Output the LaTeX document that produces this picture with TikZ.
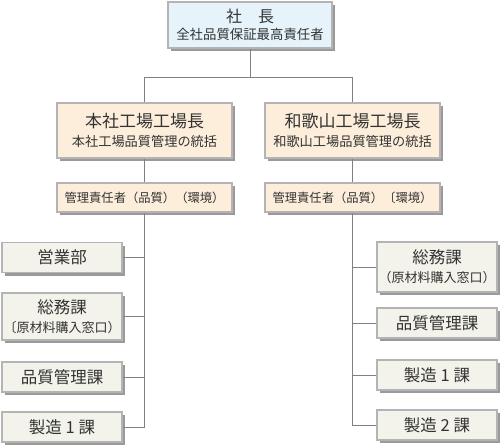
\documentclass[tikz,border=0pt]{standalone}
\usepackage{fontspec}
\setmainfont{Noto Sans CJK JP}
\usetikzlibrary{shadows}
\definecolor{boxline}{HTML}{B4B4B4}
\definecolor{boxshadow}{HTML}{9A9A9A}
\definecolor{topfill}{HTML}{E6F3FA}
\definecolor{facfill}{HTML}{FDEEDB}
\definecolor{deptfill}{HTML}{F3F3EB}
\definecolor{textgray}{HTML}{333333}
\definecolor{linkgray}{HTML}{808080}
\newcommand{\headtext}[1]{{\fontsize{17}{19}\selectfont #1}}

\begin{document}
\begin{tikzpicture}[x=1pt, y=-1pt,
  basenode/.style={shape=rectangle, draw=boxline, line width=1.5, text=textgray, inner sep=0pt, align=center,
    drop shadow={shadow xshift=3pt, shadow yshift=-3pt, fill=boxshadow, opacity=1}},
  topnode/.style={basenode, fill=topfill, minimum width=164, minimum height=46, font=\fontsize{13.4}{15}\selectfont},
  facnode/.style={basenode, fill=facfill, minimum width=175, minimum height=55, font=\fontsize{13.2}{15}\selectfont},
  mgrnode/.style={basenode, fill=facfill, minimum width=175, minimum height=29, font=\fontsize{12.3}{14}\selectfont},
  deptnode/.style={basenode, fill=deptfill, minimum width=120, minimum height=30, font=\fontsize{16.5}{18}\selectfont},
  link/.style={draw=linkgray, line width=1},
]
\useasboundingbox (0,0) rectangle (500,445);

%%% top
\node[topnode] (pres) at (250,25) {{\fontsize{16}{18}\selectfont 社\quad 長}\\[2pt]全社品質保証最高責任者};

%%% factories
\node[facnode] (lfac) at (144.5,130.5) {\headtext{本社工場工場長}\\[4pt]本社工場品質管理の統括};
\node[facnode] (rfac) at (352.5,130.5) {\headtext{和歌山工場工場長}\\[4pt]和歌山工場品質管理の統括};
\node[mgrnode] (lmgr) at (144.5,197.5) {管理責任者（品質）（環境）};
\node[mgrnode] (rmgr) at (352.5,197.5) {管理責任者（品質）〔環境）};

%%% left departments
\node[deptnode] (lsales) at (62,257.5) {営業部};
\node[deptnode, minimum height=47] (lgen) at (62,316.5) {総務課\\[1pt]{\fontsize{13}{15}\selectfont 〔原材料購入窓口）}};
\node[deptnode] (lqc) at (62,377) {品質管理課};
\node[deptnode] (lmfg1) at (62,427) {製造 1 課};

%%% right departments
\node[deptnode, minimum height=50] (rgen) at (437,267) {総務課\\[1pt]{\fontsize{13}{15}\selectfont （原材料購入窓口）}};
\node[deptnode] (rqc) at (437,323) {品質管理課};
\node[deptnode] (rmfg1) at (437,375) {製造 1 課};
\node[deptnode] (rmfg2) at (437,425) {製造 2 課};

%%% links
\draw[link] (pres.south) -- (pres.south |- 0,78);
\draw[link] (lfac.north) -- ++(0,-25) -| (rfac.north);
\draw[link] (lfac.south) -- (lmgr.north);
\draw[link] (rfac.south) -- (rmgr.north);
\draw[link] (lmgr.south) |- (lmfg1.east);
\draw[link] (rmgr.south) |- (rmfg2.west);
\foreach \d in {lsales,lgen,lqc} { \draw[link] (\d.east) -- (\d.east -| lmgr.south); }
\foreach \d in {rgen,rqc,rmfg1} { \draw[link] (\d.west) -- (\d.west -| rmgr.south); }
\end{tikzpicture}
\end{document}
